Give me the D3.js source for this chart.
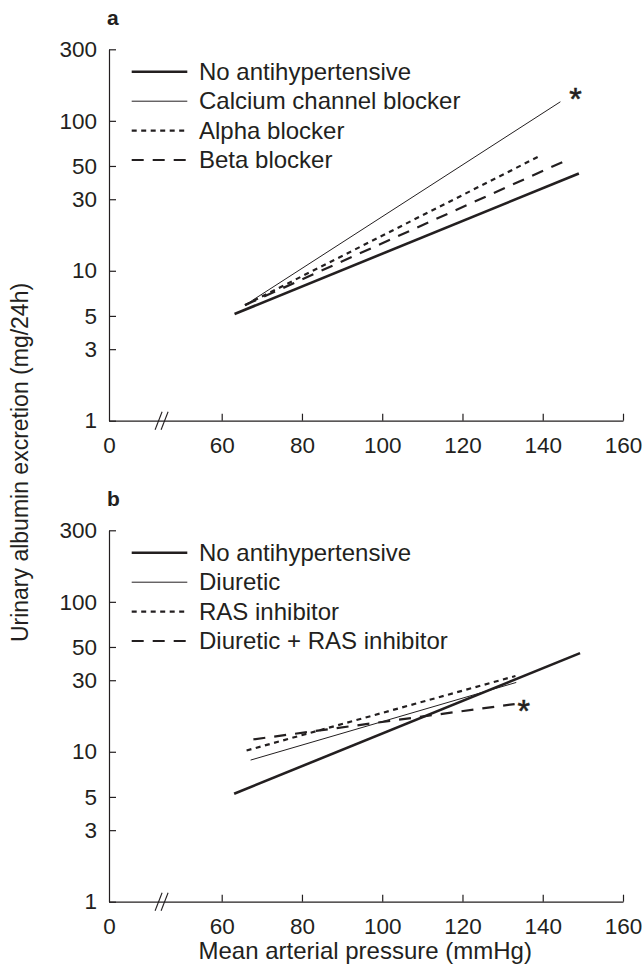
<!DOCTYPE html>
<html>
<head>
<meta charset="utf-8">
<script src="https://cdn.jsdelivr.net/npm/d3@7"></script>
<style>
  body { margin: 0; background: #fff; }
  svg text { font-family: "Liberation Sans", Arial, Helvetica, sans-serif; fill: #231f20; }
</style>
</head>
<body>
<div id="chart"></div>
<script>
// x ticks (0 then a break, then 60..160) and log y ticks
const xTicks = [0, 60, 80, 100, 120, 140, 160];
const yTicks = [1, 3, 5, 10, 30, 50, 100, 300];

// panel a: regression lines, [MAP, UAE] at both ends
const seriesA = ["No antihypertensive", "Calcium channel blocker", "Alpha blocker", "Beta blocker"];
const linesA = [
    [[63.2, 5.15], [149, 44.5]],
    [[65.8, 5.9], [144.4, 134]],
    [[65.8, 5.9], [139.1, 58]],
    [[65.8, 5.9], [146.2, 55]]
];
const starA = 1; // significant series (index)

// panel b
const seriesB = ["No antihypertensive", "Diuretic", "RAS inhibitor", "Diuretic + RAS inhibitor"];
const linesB = [
    [[63.1, 5.25], [149.3, 45.5]],
    [[67.2, 8.8], [133.4, 29]],
    [[66.2, 10.2], [133.2, 32]],
    [[67.9, 12.1], [133, 20.8]]
];
const starB = 3;

const width = 644;
const height = 968;
const ink = "#231f20";

// line styles per series position
const styles = [
    {w: 2.6, dash: null},
    {w: 1, dash: null},
    {w: 2.2, dash: "5,4.5"},
    {w: 2.2, dash: "12,9"}
];

const svg = d3.select("#chart").append("svg")
    .attr("width", width)
    .attr("height", height);

// broken x axis: 0 sits at the y axis, 60..160 is linear
const x = d3.scaleLinear()
    .domain([0, 60, 160])
    .range([109, 221.7, 623]);

const plotH = 371.4;
const y = d3.scaleLog()
    .domain([1, 300])
    .range([plotH, 0]);

function drawPanel(top, label, names, lines, starIdx, starOff) {
    const g = svg.append("g").attr("transform", `translate(0,${top})`);

    // x axis, ticks pointing up
    const xa = g.append("g")
        .attr("transform", `translate(0,${plotH})`)
        .call(d3.axisBottom(x)
            .tickValues(xTicks)
            .tickSizeInner(-7)
            .tickSizeOuter(0)
            .tickPadding(16));

    // y axis, ticks pointing right
    const ya = g.append("g")
        .attr("transform", `translate(${x(0)},0)`)
        .call(d3.axisLeft(y)
            .tickValues(yTicks)
            .tickFormat(d3.format("d"))
            .tickSizeInner(-7)
            .tickSizeOuter(0)
            .tickPadding(12));

    [xa, ya].forEach(a => {
        a.select(".domain").attr("stroke", ink).attr("stroke-width", 1.2);
        a.selectAll(".tick line").attr("stroke", ink).attr("stroke-width", 1.2);
        a.selectAll(".tick text")
            .attr("fill", ink)
            .style("font-size", "22.5px")
            .style("font-family", '"Liberation Sans", Arial, sans-serif');
    });
    xa.selectAll(".tick").filter(d => d === 0).select("line").remove();

    // axis break marks
    const bx = x(28);
    [-3, 3].forEach(o => {
        g.append("line")
            .attr("x1", bx + o - 3.5).attr("y1", plotH + 9)
            .attr("x2", bx + o + 3.5).attr("y2", plotH - 9)
            .attr("stroke", ink).attr("stroke-width", 1.1);
    });

    // panel letter
    g.append("text")
        .attr("x", 107)
        .attr("y", -24.5)
        .style("font-size", "21px")
        .style("font-weight", "bold")
        .text(label);

    const line = d3.line()
        .x(d => x(d[0]))
        .y(d => y(d[1]));

    g.selectAll("path.reg")
        .data(lines)
        .enter()
        .append("path")
        .attr("class", "reg")
        .attr("d", line)
        .attr("fill", "none")
        .attr("stroke", ink)
        .attr("stroke-width", (d, i) => styles[i].w)
        .attr("stroke-dasharray", (d, i) => styles[i].dash);

    // asterisk next to the end of the significant line
    const end = lines[starIdx][1];
    g.append("text")
        .attr("x", x(end[0]) + starOff[0])
        .attr("y", y(end[1]) + starOff[1])
        .attr("text-anchor", "middle")
        .attr("stroke", ink)
        .attr("stroke-width", 0.6)
        .style("font-size", "32px")
        .text("*");

    // legend
    const leg = g.append("g");
    names.forEach((name, i) => {
        const ly = 22.5 + i * 29.4;
        leg.append("line")
            .attr("x1", 131.7).attr("x2", 187.3)
            .attr("y1", ly).attr("y2", ly)
            .attr("stroke", ink)
            .attr("stroke-width", styles[i].w)
            .attr("stroke-dasharray", styles[i].dash);
        leg.append("text")
            .attr("x", 199)
            .attr("y", ly)
            .attr("dy", "0.34em")
            .style("font-size", "24px")
            .text(name);
    });
}

drawPanel(49.3, "a", seriesA, linesA, starA, [15, 8.6]);
drawPanel(530.3, "b", seriesB, linesB, starB, [9, 17.6]);

// shared axis titles
svg.append("text")
    .attr("transform", "translate(28,462.5) rotate(-90)")
    .attr("text-anchor", "middle")
    .style("font-size", "23px")
    .text("Urinary albumin excretion (mg/24h)");

svg.append("text")
    .attr("x", x(100) - 17)
    .attr("y", 959)
    .attr("text-anchor", "middle")
    .style("font-size", "24px")
    .text("Mean arterial pressure (mmHg)");
</script>
</body>
</html>
